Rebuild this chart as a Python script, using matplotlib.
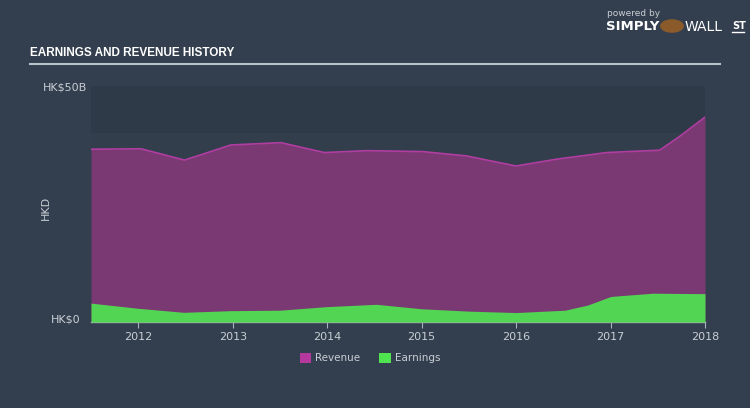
import matplotlib.pyplot as plt
from matplotlib.patches import Patch

# ── DATA (HK$ billions, decimal years) ────────────────────────
rev_years = [2011.5, 2012.03, 2012.49, 2012.98, 2013.51, 2013.97, 2014.43,
             2015.01, 2015.47, 2016.0, 2016.43, 2016.96, 2017.52, 2017.73, 2018.0]
revenue = [36.6, 36.7, 34.3, 37.5, 38.0, 35.9, 36.3,
           36.1, 35.2, 33.05, 34.5, 35.9, 36.4, 39.3, 43.4]

earn_years = [2011.5, 2012.0, 2012.48, 2012.98, 2013.5, 2013.99, 2014.52,
              2015.0, 2015.5, 2016.0, 2016.52, 2016.76, 2017.0, 2017.12,
              2017.45, 2018.0]
earnings = [4.0, 2.9, 2.05, 2.4, 2.5, 3.25, 3.75,
            2.8, 2.3, 2.0, 2.5, 3.6, 5.4, 5.6, 6.1, 6.0]

year_ticks = [2012, 2013, 2014, 2015, 2016, 2017, 2018]

BG = '#333f4e'
TXT = '#c9ced5'
REV_FILL = '#7b3974'
REV_LINE = '#b23da2'
EARN_FILL = '#52d552'

fig = plt.figure(figsize=(7.5, 4.08), dpi=100, facecolor=BG)
ax = fig.add_axes([91 / 750, 1 - 322 / 408, 614 / 750, 236 / 408])
ax.set_facecolor('#323e4c')
ax.axhspan(40, 50, color='#2f3a48', lw=0, zorder=0)

ax.fill_between(rev_years, 0, revenue, color=REV_FILL, lw=0, zorder=1)
ax.plot(rev_years, revenue, color=REV_LINE, lw=1.2, zorder=2)
ax.fill_between(earn_years, 0, earnings, color=EARN_FILL, lw=0, zorder=3)

ax.set_xlim(2011.5, 2018.0)
ax.set_ylim(0, 50)
ax.set_xticks(year_ticks)
ax.set_xticklabels([str(y) for y in year_ticks], color=TXT, fontsize=8)
ax.tick_params(axis='x', length=4, color='#aab2bc', pad=3)
ax.set_yticks([])
for s in ['top', 'right', 'left']:
    ax.spines[s].set_visible(False)
ax.spines['bottom'].set_color('#aab2bc')
ax.spines['bottom'].set_linewidth(1)

# y labels as text
fig.text(87 / 750, 1 - 87 / 408, 'HK$50B', color=TXT, fontsize=8,
         ha='right', va='center')
fig.text(80 / 750, 1 - 320 / 408, 'HK$0', color=TXT, fontsize=8,
         ha='right', va='center')
fig.text(46 / 750, 1 - 208 / 408, 'HKD', color=TXT, fontsize=8,
         rotation=90, ha='center', va='center')

# title + underline
fig.text(30 / 750, 1 - 53 / 408, 'EARNINGS AND REVENUE HISTORY', color='white',
         fontsize=8.5, fontweight='bold', family='Liberation Sans',
         ha='left', va='center')
fig.add_artist(plt.Line2D([30 / 750, 720 / 750], [1 - 64 / 408, 1 - 64 / 408],
                          color='#b8c0c8', lw=1.5))

# logo text
fig.text(607 / 750, 1 - 14 / 408, 'powered by', color='#c9ced5', fontsize=6.5,
         ha='left', va='center')
fig.text(606 / 750, 1 - 27 / 408, 'SIMPLY', color='white', fontsize=9.5,
         fontweight='bold', ha='left', va='center')
fig.patches.append(plt.Circle((672 / 750, 1 - 26 / 408), 0.015,
                              transform=fig.transFigure, color='#8a5a2b',
                              figure=fig))
fig.text(685 / 750, 1 - 27 / 408, 'WALL', color='white', fontsize=10,
         ha='left', va='center')
fig.text(732 / 750, 1 - 26 / 408, 'ST', color='white', fontsize=7,
         fontweight='bold', ha='left', va='center')
fig.add_artist(plt.Line2D([732 / 750, 744 / 750], [1 - 32 / 408, 1 - 32 / 408],
                          color='white', lw=1))

# legend
handles = [Patch(facecolor='#b5389f', label='Revenue'),
           Patch(facecolor='#4fe34f', label='Earnings')]
fig.legend(handles=handles, loc='center', bbox_to_anchor=(370 / 750, 1 - 358 / 408),
           ncol=2, frameon=False, fontsize=7.5, labelcolor=TXT,
           handlelength=1.1, handleheight=1.1, columnspacing=1.8,
           handletextpad=0.4)

plt.savefig('out.png', dpi=100, facecolor=BG)
